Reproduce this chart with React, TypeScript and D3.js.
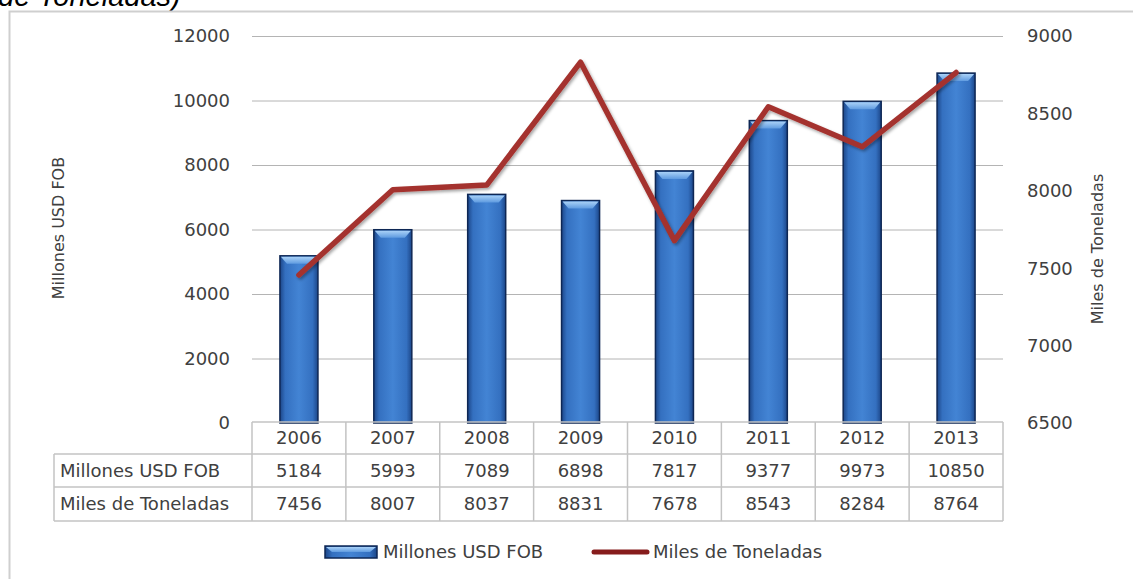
import React from 'react';
import { scaleBand, scaleLinear, line } from 'd3';

const years = ['2006', '2007', '2008', '2009', '2010', '2011', '2012', '2013'];
const usdFob = [5184, 5993, 7089, 6898, 7817, 9377, 9973, 10850];
const toneladas = [7456, 8007, 8037, 8831, 7678, 8543, 8284, 8764];
const leftTicks = [0, 2000, 4000, 6000, 8000, 10000, 12000];
const rightTicks = [6500, 7000, 7500, 8000, 8500, 9000];
const seriesNames = ['Millones USD FOB', 'Miles de Toneladas'];

const W = 1133;
const H = 579;
const plot = { left: 252, right: 1003, top: 36, bottom: 423 };
const font = '"DejaVu Sans", sans-serif';
const textColor = '#404040';
const gridColor = '#b4b4b4';
const tableColor = '#c3c3c3';
const rowH = [422, 454, 487, 521];
const labelColLeft = 54;

const App = () => {
  const x = scaleBand<string>().domain(years).range([plot.left, plot.right]);
  const yLeft = scaleLinear().domain([0, 12000]).range([plot.bottom, plot.top]);
  const yRight = scaleLinear().domain([6500, 9000]).range([plot.bottom, plot.top]);
  const bw = x.bandwidth() * 0.405;
  const cx = (y: string) => (x(y) ?? 0) + x.bandwidth() / 2;

  const tonLine = line<number>()
    .x((_, i) => cx(years[i]))
    .y((d) => yRight(d));

  const bar = (bx: number, by: number, w: number, h: number, key: string) => (
    <g key={key}>
      <rect x={bx} y={by} width={w} height={h} fill="url(#barGrad)" stroke="#0e2754" strokeWidth={1.5} />
      <polygon
        points={`${bx + 1},${by + 1} ${bx + w - 1},${by + 1} ${bx + w - 7},${by + Math.min(8, h / 2)} ${bx + 7},${by + Math.min(8, h / 2)}`}
        fill="url(#bevelGrad)"
      />
    </g>
  );

  const rows = [years, usdFob.map(String), toneladas.map(String)];

  return (
    <svg width={W} height={H} style={{ position: 'absolute', left: 0, top: 0, background: '#fff' }}>
      <defs>
        <linearGradient id="barGrad" x1="0" x2="1" y1="0" y2="0">
          <stop offset="0%" stopColor="#1c4688" />
          <stop offset="14%" stopColor="#3470c0" />
          <stop offset="50%" stopColor="#4384d4" />
          <stop offset="86%" stopColor="#3470c0" />
          <stop offset="100%" stopColor="#1c4688" />
        </linearGradient>
        <linearGradient id="bevelGrad" x1="0" x2="0" y1="0" y2="1">
          <stop offset="0%" stopColor="#a9d1f7" />
          <stop offset="100%" stopColor="#5f9be0" />
        </linearGradient>
        <filter id="shadow" x="-10%" y="-10%" width="120%" height="130%">
          <feDropShadow dx="1.5" dy="2" stdDeviation="1.5" floodColor="#000" floodOpacity="0.35" />
        </filter>
      </defs>

      {/* cut-off title from the page above */}
      <text x={-2} y={6} fontFamily='"Liberation Sans", Arial, sans-serif' fontStyle="italic" fontSize={29} fill="#000">
        de Toneladas)
      </text>

      {/* chart frame */}
      <rect x={9.5} y={11.5} width={W + 20} height={H + 20} fill="none" stroke="#cfcfcf" strokeWidth={2} />

      {/* gridlines */}
      {leftTicks.filter((t) => t > 0).map((t) => (
        <line key={t} x1={plot.left} x2={plot.right} y1={yLeft(t) + 0.5} y2={yLeft(t) + 0.5} stroke={gridColor} strokeWidth={1} />
      ))}

      {/* left axis */}
      {leftTicks.map((t) => (
        <text key={t} x={230} y={yLeft(t)} dy="0.36em" textAnchor="end" fontFamily={font} fontSize={18} fill={textColor}>
          {t}
        </text>
      ))}
      {/* right axis */}
      {rightTicks.map((t) => (
        <text key={t} x={1027} y={yRight(t)} dy="0.36em" textAnchor="start" fontFamily={font} fontSize={18} fill={textColor}>
          {t}
        </text>
      ))}

      <text transform="translate(64,228) rotate(-90)" textAnchor="middle" fontFamily={font} fontSize={16} fill={textColor}>
        {seriesNames[0]}
      </text>
      <text transform="translate(1103,249) rotate(-90)" textAnchor="middle" fontFamily={font} fontSize={16} fill={textColor}>
        {seriesNames[1]}
      </text>

      {/* bars */}
      {usdFob.map((v, i) => {
        const top = yLeft(v);
        return bar(cx(years[i]) - bw / 2, top, bw, plot.bottom - top, years[i]);
      })}

      {/* line */}
      <path
        d={tonLine(toneladas) ?? ''}
        fill="none"
        stroke="#a4322e"
        strokeWidth={5.5}
        strokeLinejoin="round"
        strokeLinecap="round"
        filter="url(#shadow)"
      />

      {/* data table */}
      <g stroke={tableColor} strokeWidth={1.5} fill="none">
        <line x1={plot.left} x2={plot.right} y1={rowH[0]} y2={rowH[0]} />
        <line x1={labelColLeft} x2={plot.right} y1={rowH[1]} y2={rowH[1]} />
        <line x1={labelColLeft} x2={plot.right} y1={rowH[2]} y2={rowH[2]} />
        <line x1={labelColLeft} x2={plot.right} y1={rowH[3]} y2={rowH[3]} />
        <line x1={labelColLeft} x2={labelColLeft} y1={rowH[1]} y2={rowH[3]} />
        {years.map((yr) => (
          <line key={yr} x1={x(yr)} x2={x(yr)} y1={rowH[0]} y2={rowH[3]} />
        ))}
        <line x1={plot.right} x2={plot.right} y1={rowH[0]} y2={rowH[3]} />
      </g>
      {rows.map((r, ri) =>
        r.map((val, ci) => (
          <text
            key={`${ri}-${ci}`}
            x={cx(years[ci])}
            y={(rowH[ri] + rowH[ri + 1]) / 2}
            dy="0.36em"
            textAnchor="middle"
            fontFamily={font}
            fontSize={18}
            fill={textColor}
          >
            {val}
          </text>
        ))
      )}
      {seriesNames.map((n, i) => (
        <text key={n} x={60} y={(rowH[i + 1] + rowH[i + 2]) / 2} dy="0.36em" fontFamily={font} fontSize={18} fill={textColor}>
          {n}
        </text>
      ))}

      {/* legend */}
      {bar(325, 546, 52, 12, 'legend-bar')}
      <text x={383} y={552} dy="0.36em" fontFamily={font} fontSize={18} fill={textColor}>
        {seriesNames[0]}
      </text>
      <line x1={594} x2={647} y1={552} y2={552} stroke="#861c1c" strokeWidth={5} strokeLinecap="round" />
      <text x={653} y={552} dy="0.36em" fontFamily={font} fontSize={18} fill={textColor}>
        {seriesNames[1]}
      </text>
    </svg>
  );
};

export default App;
